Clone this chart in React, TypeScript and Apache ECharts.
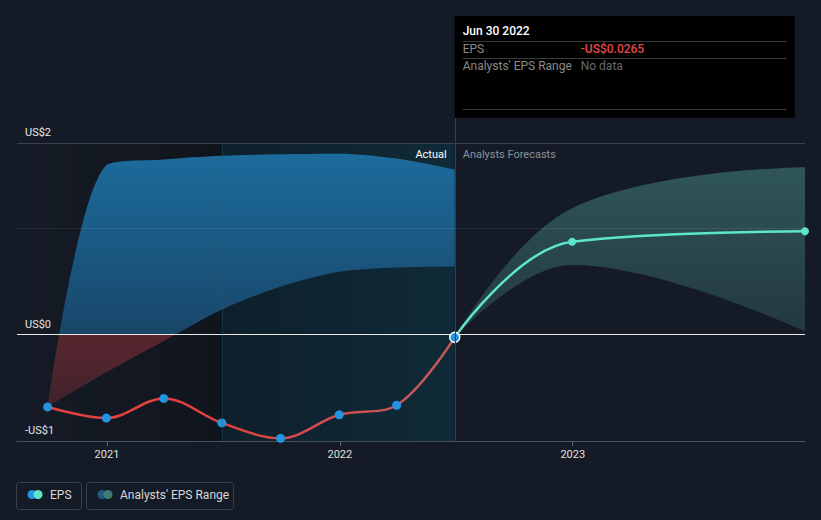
import React, { useEffect, useRef } from "react";
import * as echarts from "echarts";

// ---- data ----
const actualDates = ["2020-09-30", "2020-12-31", "2021-03-31", "2021-06-30", "2021-09-30", "2021-12-31", "2022-03-31", "2022-06-30"];
const actualEps = [-0.68, -0.785, -0.6, -0.83, -0.975, -0.754, -0.664, -0.0265];
const pastRangeLow = [-0.68, -0.355, -0.06, 0.234, 0.45, 0.59, 0.63, 0.64];
const pastRangeHigh = [-0.68, 1.59, 1.645, 1.68, 1.695, 1.7, 1.654, 1.55];
const forecastDates = ["2022-06-30", "2022-12-31", "2023-12-31"];
const forecastEps = [-0.0265, 0.872, 0.97];
const forecastLow = [-0.0265, 0.654, 0.03];
const forecastHigh = [-0.0265, 1.187, 1.573];
const xMin = "2020-08-13";
const xMax = "2023-12-31";
const yMin = -1;
const yMax = 1.8;
const yLabels: Record<string, string> = { "-1": "-US$1", "0": "US$0", "1.8": "US$2" };
const lastYearStart = "2021-06-30";
const presentDate = "2022-06-30";

const FONT = "Roboto, 'Noto Sans', sans-serif";

const ts = (d: string) => new Date(d + "T00:00:00Z").getTime();

export default function App() {
  const ref = useRef<HTMLDivElement>(null);

  useEffect(() => {
    const chart = echarts.init(ref.current!, null, { renderer: "svg" });

    const pastLowData = actualDates.map((d, i) => [ts(d), pastRangeLow[i]]);
    const pastDiffData = actualDates.map((d, i) => [ts(d), pastRangeHigh[i] - pastRangeLow[i]]);
    const fcLowData = forecastDates.map((d, i) => [ts(d), forecastLow[i]]);
    const fcDiffData = forecastDates.map((d, i) => [ts(d), forecastHigh[i] - forecastLow[i]]);
    const actualData = actualDates.map((d, i) =>
      i === actualDates.length - 1
        ? { value: [ts(d), actualEps[i]], symbolSize: 10, itemStyle: { color: "#2394e0", borderColor: "#ffffff", borderWidth: 1.5 } }
        : { value: [ts(d), actualEps[i]] }
    );
    const fcData = forecastDates.map((d, i) =>
      i === 0 ? { value: [ts(d), forecastEps[i]], symbol: "none" } : { value: [ts(d), forecastEps[i]] }
    );

    const option: any = {
      animation: false,
      backgroundColor: "#151b26",
      textStyle: { fontFamily: FONT },
      grid: { left: 17, right: 16, top: 143, bottom: 79 },
      xAxis: {
        type: "time",
        min: ts(xMin),
        max: ts(xMax),
        minInterval: 365 * 86400000,
        maxInterval: 366 * 86400000,
        axisLine: { show: true, onZero: false, lineStyle: { color: "#4a505a", width: 1 } },
        axisTick: { show: true, length: 5, lineStyle: { color: "#5a606a" } },
        splitLine: { show: false },
        axisLabel: {
          color: "#e0e0e0",
          fontSize: 11,
          fontFamily: FONT,
          margin: 8,
          showMinLabel: false,
          showMaxLabel: false,
          formatter: (v: number) => String(new Date(v).getUTCFullYear()),
        },
      },
      yAxis: {
        type: "value",
        min: yMin,
        max: yMax,
        interval: 1,
        axisLine: { show: false },
        axisTick: { show: false },
        splitLine: { show: false },
        axisLabel: {
          inside: true,
          margin: 8,
          color: "#eaeaea",
          fontSize: 11,
          fontFamily: FONT,
          verticalAlign: "bottom",
          padding: [0, 0, 5, 0],
          formatter: (v: number) => yLabels[String(Math.round(v * 10) / 10)] ?? "",
        },
      },
      series: [
        {
          id: "shade",
          type: "line",
          z: 1,
          data: [],
          silent: true,
          markArea: {
            silent: true,
            label: { show: false },
            data: [
              [
                {
                  xAxis: ts(xMin),
                  itemStyle: {
                    color: new echarts.graphic.LinearGradient(0, 0, 1, 0, [
                      { offset: 0, color: "rgba(0,0,0,0)" },
                      { offset: 1, color: "rgba(0,0,0,0.25)" },
                    ]),
                  },
                },
                { xAxis: ts(lastYearStart) },
              ],
              [
                {
                  xAxis: ts(lastYearStart),
                  itemStyle: {
                    color: new echarts.graphic.LinearGradient(0, 0, 1, 0, [
                      { offset: 0, color: "rgba(0,40,55,0.33)" },
                      { offset: 1, color: "rgba(0,80,95,0.29)" },
                    ]),
                  },
                },
                { xAxis: ts(presentDate) },
              ],
            ],
          },
        },
        {
          id: "pastLow",
          type: "line",
          z: 2,
          stack: "past",
          stackStrategy: "all",
          data: pastLowData,
          smooth: 0.3,
          symbol: "none",
          lineStyle: { width: 0, opacity: 0 },
          silent: true,
        },
        {
          id: "pastDiff",
          type: "line",
          z: 2,
          stack: "past",
          stackStrategy: "all",
          data: pastDiffData,
          smooth: 0.3,
          symbol: "none",
          lineStyle: { width: 0, opacity: 0 },
          areaStyle: { color: "#1a5a88", opacity: 1 },
          silent: true,
        },
        {
          id: "fcLow",
          type: "line",
          z: 2,
          stack: "fc",
          stackStrategy: "all",
          data: fcLowData,
          smooth: 0.4,
          symbol: "none",
          lineStyle: { width: 0, opacity: 0 },
          silent: true,
        },
        {
          id: "fcDiff",
          type: "line",
          z: 2,
          stack: "fc",
          stackStrategy: "all",
          data: fcDiffData,
          smooth: 0.4,
          symbol: "none",
          lineStyle: { width: 0, opacity: 0 },
          areaStyle: {
            opacity: 1,
            color: new echarts.graphic.LinearGradient(0, 0, 0, 1, [
              { offset: 0, color: "#2f5659" },
              { offset: 1, color: "#22373e" },
            ]),
          },
          silent: true,
        },
        {
          id: "gridlines",
          type: "line",
          z: 3,
          data: [],
          silent: true,
          markLine: {
            silent: true,
            symbol: "none",
            label: { show: false },
            data: [
              { yAxis: yMax, lineStyle: { color: "#3b414b", width: 1, type: "solid" } },
              { yAxis: 1, lineStyle: { color: "rgba(255,255,255,0.08)", width: 1, type: "solid" } },
              { yAxis: 0, lineStyle: { color: "#e8e8e8", width: 1, type: "solid" } },
            ],
          },
        },
        {
          id: "forecast",
          type: "line",
          z: 4,
          data: fcData,
          smooth: 0.4,
          symbol: "circle",
          symbolSize: 8,
          itemStyle: { color: "#5ee5cc" },
          lineStyle: { color: "#5ee5cc", width: 2.5 },
        },
        {
          id: "actual",
          type: "line",
          z: 5,
          data: actualData,
          smooth: 0.35,
          symbol: "circle",
          symbolSize: 9,
          itemStyle: { color: "#2394e0" },
          lineStyle: { color: "#e2423f", width: 2.5 },
        },
      ],
    };

    chart.setOption(option);

    const px = (d: string) => chart.convertToPixel({ xAxisIndex: 0 }, ts(d)) as number;
    const py = (v: number) => chart.convertToPixel({ yAxisIndex: 0 }, v) as number;
    const xLY = px(lastYearStart);
    const xP = px(presentDate);
    const yTop = py(yMax);
    const yZero = py(0);
    const yBot = py(yMin);
    const f0 = (yZero - yTop) / (yBot - yTop);

    const graphic: any[] = [
      // vertical separators
      { type: "line", z: 10, silent: true, shape: { x1: xLY + 0.5, y1: yTop, x2: xLY + 0.5, y2: yBot }, style: { stroke: "rgba(40,90,110,0.45)", lineWidth: 1 } },
      { type: "line", z: 10, silent: true, shape: { x1: Math.round(xP) + 0.5, y1: 118, x2: Math.round(xP) + 0.5, y2: yBot }, style: { stroke: "#1d4656", lineWidth: 1 } },
      // region captions
      { type: "text", z: 10, silent: true, x: xP - 8, y: yTop + 11, style: { text: "Actual", fill: "#ffffff", fontSize: 11, fontFamily: FONT, align: "right", verticalAlign: "middle" } },
      { type: "text", z: 10, silent: true, x: xP + 8, y: yTop + 11, style: { text: "Analysts Forecasts", fill: "#8b919a", fontSize: 11, fontFamily: FONT, align: "left", verticalAlign: "middle" } },
      // tooltip box
      { type: "rect", z: 20, silent: true, shape: { x: xP, y: 16, width: 340, height: 102 }, style: { fill: "#000000" } },
      { type: "text", z: 21, silent: true, x: xP + 8, y: 31, style: { text: "Jun 30 2022", fill: "#ffffff", fontSize: 12, fontWeight: 500, fontFamily: FONT, verticalAlign: "middle" } },
      { type: "line", z: 21, silent: true, shape: { x1: xP + 8, y1: 41.5, x2: xP + 332, y2: 41.5 }, style: { stroke: "#3a3a3a", lineWidth: 1 } },
      { type: "text", z: 21, silent: true, x: xP + 8, y: 49, style: { text: "EPS", fill: "#8a8a8a", fontSize: 12, fontFamily: FONT, verticalAlign: "middle" } },
      { type: "text", z: 21, silent: true, x: xP + 126, y: 49, style: { text: "-US$0.0265", fill: "#e5484d", fontSize: 12, fontWeight: 500, fontFamily: FONT, verticalAlign: "middle" } },
      { type: "line", z: 21, silent: true, shape: { x1: xP + 8, y1: 58.5, x2: xP + 332, y2: 58.5 }, style: { stroke: "#3a3a3a", lineWidth: 1 } },
      { type: "text", z: 21, silent: true, x: xP + 8, y: 66, style: { text: "Analysts' EPS Range", fill: "#8a8a8a", fontSize: 12, fontFamily: FONT, verticalAlign: "middle" } },
      { type: "text", z: 21, silent: true, x: xP + 126, y: 66, style: { text: "No data", fill: "#6a6a6a", fontSize: 12, fontFamily: FONT, verticalAlign: "middle" } },
      { type: "line", z: 21, silent: true, shape: { x1: xP + 8, y1: 109.5, x2: xP + 332, y2: 109.5 }, style: { stroke: "#3a3a3a", lineWidth: 1 } },
      // legend
      { type: "rect", z: 10, silent: true, shape: { x: 16.5, y: 482.5, width: 65, height: 27, r: 3 }, style: { fill: "none", stroke: "#3b414c", lineWidth: 1 } },
      { type: "circle", z: 11, silent: true, shape: { cx: 32, cy: 494.5, r: 4.5 }, style: { fill: "#2394e0" } },
      { type: "circle", z: 12, silent: true, shape: { cx: 38, cy: 494.5, r: 4.5 }, style: { fill: "#5ee5cc" } },
      { type: "text", z: 11, silent: true, x: 50, y: 495, style: { text: "EPS", fill: "#d8d8d8", fontSize: 12, fontFamily: FONT, verticalAlign: "middle" } },
      { type: "rect", z: 10, silent: true, shape: { x: 86.5, y: 482.5, width: 147, height: 27, r: 3 }, style: { fill: "none", stroke: "#3b414c", lineWidth: 1 } },
      { type: "circle", z: 11, silent: true, shape: { cx: 102, cy: 494.5, r: 4.5 }, style: { fill: "#1f5a85" } },
      { type: "circle", z: 12, silent: true, shape: { cx: 108, cy: 494.5, r: 4.5 }, style: { fill: "#3b7d76" } },
      { type: "text", z: 11, silent: true, x: 120, y: 495, style: { text: "Analysts' EPS Range", fill: "#d8d8d8", fontSize: 12, fontFamily: FONT, verticalAlign: "middle" } },
    ];

    chart.setOption({
      series: [
        {
          id: "pastDiff",
          areaStyle: {
            opacity: 1,
            color: new echarts.graphic.LinearGradient(
              0, yTop, 0, yBot,
              [
                { offset: 0, color: "#1c6ea0" },
                { offset: Math.max(0, f0 - 0.001), color: "#194669" },
                { offset: f0, color: "#58262f" },
                { offset: 1, color: "#36212b" },
              ],
              true
            ),
          },
        },
        {
          id: "actual",
          lineStyle: {
            width: 2.5,
            color: new echarts.graphic.LinearGradient(
              xLY, 0, xP, 0,
              [
                { offset: 0, color: "#e2423f" },
                { offset: 1, color: "#c25a60" },
              ],
              true
            ),
          },
        },
      ],
      graphic,
    });

    return () => chart.dispose();
  }, []);

  return <div ref={ref} style={{ position: "fixed", left: 0, top: 0, width: 821, height: 520 }} />;
}
